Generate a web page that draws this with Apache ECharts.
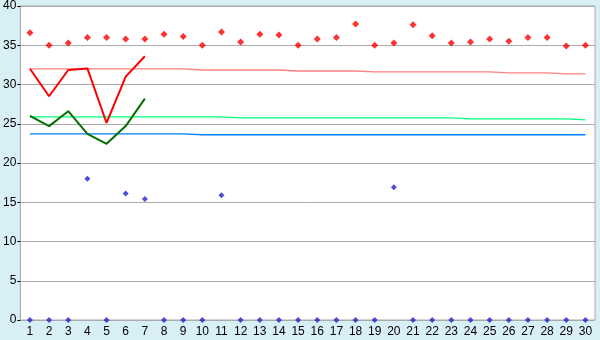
<!DOCTYPE html>
<html><head><meta charset="utf-8">
<script src="https://cdn.jsdelivr.net/npm/echarts@6/dist/echarts.min.js"></script>
<style>html,body{margin:0;padding:0;background:#d9eff6}#c{width:600px;height:340px}</style>
</head><body><div id="c"></div>
<script>
var days = ['1','2','3','4','5','6','7','8','9','10','11','12','13','14','15','16','17','18','19','20','21','22','23','24','25','26','27','28','29','30'];
var yTicks = [0, 40, 5];
var redPoints = [36.6,35.0,35.3,36.0,36.0,35.8,35.8,36.4,36.1,35.0,36.7,35.4,36.4,36.3,35.0,35.8,36.0,37.7,35.0,35.3,37.6,36.2,35.3,35.4,35.8,35.5,36.0,36.0,34.9,35.0];
var bluePoints = [0,0,0,18.0,0,16.1,15.4,0,0,0,15.9,0,0,0,0,0,0,0,0,16.9,0,0,0,0,0,0,0,0,0,0];
var redLine = [32.0,28.5,31.85,32.05,25.1,31.0,33.6];
var greenLine = [26.0,24.7,26.6,23.7,22.45,24.7,28.2];
var pinkRef = [32.0,32.0,32.0,32.0,32.0,32.0,32.0,32.0,32.0,31.85,31.85,31.85,31.85,31.85,31.72,31.72,31.72,31.72,31.6,31.6,31.6,31.6,31.6,31.6,31.6,31.48,31.48,31.48,31.35,31.35];
var greenRef = [25.88,25.88,25.88,25.88,25.88,25.88,25.88,25.88,25.88,25.88,25.88,25.75,25.75,25.75,25.75,25.75,25.75,25.75,25.75,25.75,25.75,25.75,25.75,25.62,25.62,25.62,25.62,25.62,25.62,25.5];
var blueRef = [23.72,23.72,23.72,23.72,23.72,23.72,23.72,23.72,23.72,23.6,23.6,23.6,23.6,23.6,23.6,23.6,23.6,23.6,23.6,23.6,23.6,23.6,23.6,23.6,23.6,23.6,23.6,23.6,23.6,23.6];

var chart = echarts.init(document.getElementById('c'), null, {renderer:'canvas'});
function refLine(d, color){
  return {type:'line', data:d, showSymbol:false, symbol:'none', lineStyle:{color:color, width:1.3}, z:2, animation:false};
}
chart.setOption({
  animation:false,
  backgroundColor:'#d9eff6',
  textStyle:{fontFamily:'Liberation Sans', fontSize:11, color:'#000'},
  grid:{left:20, right:5, top:5, bottom:20, show:true, backgroundColor:'#fff', borderColor:'#aaaaaa', borderWidth:1, containLabel:false},
  xAxis:{type:'category', data:days, boundaryGap:true,
    axisLine:{lineStyle:{color:'#aaaaaa'}},
    axisTick:{alignWithLabel:true, length:5, lineStyle:{color:'#000'}},
    axisLabel:{color:'#000', fontSize:12, margin:6, interval:0, fontFamily:'Liberation Sans'},
    splitLine:{show:false}},
  yAxis:{type:'value', min:yTicks[0], max:yTicks[1], interval:yTicks[2],
    axisLine:{show:true, lineStyle:{color:'#aaaaaa'}},
    axisTick:{show:true, length:3, lineStyle:{color:'#000'}},
    axisLabel:{color:'#000', fontSize:12, margin:4, fontFamily:'Liberation Sans'},
    splitLine:{lineStyle:{color:'#aaaaaa', width:1}}},
  series:[
    refLine(pinkRef,'#ff8080'),
    refLine(greenRef,'#00ff80'),
    refLine(blueRef,'#0080ff'),
    {type:'line', data:redLine, showSymbol:false, symbol:'none', lineStyle:{color:'#ff0000', width:2}, z:3},
    {type:'line', data:greenLine, showSymbol:false, symbol:'none', lineStyle:{color:'#007000', width:2}, z:3},
    {type:'scatter', data:redPoints, symbol:'diamond', symbolSize:7, itemStyle:{color:'#ff0000'}, clip:false, z:5},
    {type:'scatter', data:bluePoints, symbol:'diamond', symbolSize:6, itemStyle:{color:'#2222cc'}, clip:false, z:5}
  ]
});
</script></body></html>
